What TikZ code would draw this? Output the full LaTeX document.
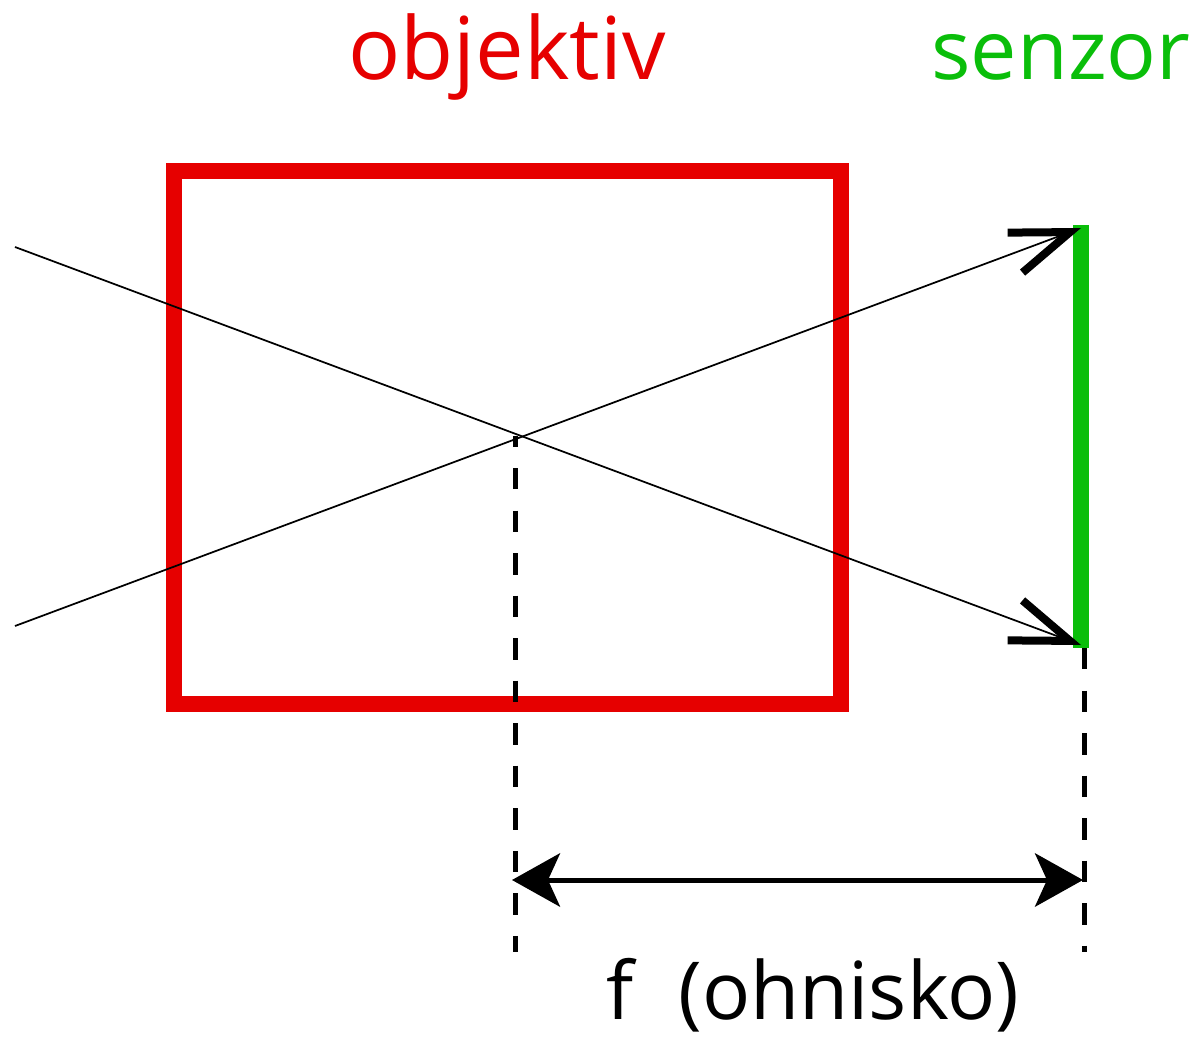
\documentclass[tikz,border=0pt]{standalone}
\usepackage{fontspec}
\setmainfont{Open Sans}
\usetikzlibrary{arrows.meta}
\definecolor{lensred}{RGB}{230,0,0}
\definecolor{sensgreen}{RGB}{10,190,10}
\begin{document}
\begin{tikzpicture}[x=0.75pt,y=-0.75pt,
  lens/.style={draw=lensred,line width=12pt},
  sensor/.style={draw=sensgreen,line width=11.5pt},
  ray/.style={line width=1.3pt,-{Straight Barb[length=44pt,width=32pt,line width=6pt 0]}},
  guide/.style={line width=3.75pt,dash pattern=on 16.1pt off 15.8pt},
  dimline/.style={line width=3.75pt,{Stealth[length=36pt,width=40pt,inset=9pt]}-{Stealth[length=36pt,width=40pt,inset=9pt]}},
  lbl/.style={anchor=base,inner sep=0pt}]
\useasboundingbox (0,0) rectangle (1196,1041);
% coordinates
\coordinate (lensTL) at (173.5,171);
\coordinate (lensBR) at (841,704);
\coordinate (sTop) at (1081,225);
\coordinate (sBot) at (1081,648);
\coordinate (rayA) at (15,247);
\coordinate (rayB) at (15,626);
\coordinate (tipTop) at (1081,228);
\coordinate (tipBot) at (1081,645);
\coordinate (gLtop) at (515,436);
\coordinate (gLbot) at (515,952);
\coordinate (gRtop) at (1084,648);
\coordinate (gRbot) at (1084,952);
\coordinate (dL) at (512,880);
\coordinate (dR) at (1083,880);
% lens and sensor
\draw[lens] (lensTL) rectangle (lensBR);
\draw[sensor] (sTop) -- (sBot);
% rays
\draw[ray] (rayA) -- (tipBot);
\draw[ray] (rayB) -- (tipTop);
% guides
\draw[guide,dash phase=7.9pt] (gLtop) -- (gLbot);
\draw[guide] (gRtop) -- (gRbot);
\draw[dimline] (dL) -- (dR);
% labels
\node[lbl,text=lensred,font=\fontsize{65}{70}\selectfont] (tObj) at (507,80) {objektiv};
\node[lbl,text=sensgreen,font=\fontsize{62}{70}\selectfont] (tSen) at (1061,80) {senzor};
\node[lbl,font=\fontsize{60}{66}\selectfont] (tF) at (813,1019) {f \hspace{0.3em}(ohnisko)};
\end{tikzpicture}
\end{document}
